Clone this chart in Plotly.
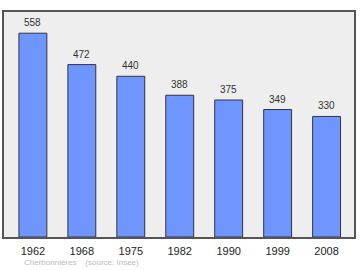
import plotly.graph_objects as go

years = ["1962", "1968", "1975", "1982", "1990", "1999", "2008"]
population = [558, 472, 440, 388, 375, 349, 330]
source_text = "Cherbonnières    (source: Insee)"

FONT = "Arial"

fig = go.Figure()
fig.add_trace(go.Bar(
    x=list(range(len(years))), y=population,
    width=0.57,
    marker=dict(color="#6f96ff", line=dict(color="#333344", width=1)),
    hoverinfo="skip",
))
for i, v in enumerate(population):
    fig.add_annotation(x=i, y=v, text=str(v), showarrow=False, yanchor="bottom",
                       yshift=3, font=dict(family=FONT, size=10, color="#333333"))

fig.add_annotation(xref="paper", yref="paper", x=0.05, y=-0.115, xanchor="left", yanchor="middle",
                   text=source_text, showarrow=False,
                   font=dict(family=FONT, size=8, color="#bbbbbb"))

fig.update_layout(
    width=360, height=270,
    margin=dict(l=4, r=4, t=12, b=33),
    paper_bgcolor="white", plot_bgcolor="#eeeeee",
    showlegend=False,
    xaxis=dict(range=[-0.59, 6.56], tickvals=list(range(len(years))), ticktext=years,
               showgrid=False, zeroline=False, ticks="outside", ticklen=3,
               tickcolor="rgba(0,0,0,0)",
               tickfont=dict(family=FONT, size=11, color="#222222"),
               showline=True, linecolor="#555555", linewidth=2, mirror=True, fixedrange=True),
    yaxis=dict(range=[0, 616], showticklabels=False, showgrid=False, zeroline=False,
               showline=True, linecolor="#555555", linewidth=2, mirror=True, fixedrange=True),
)
fig.write_html("out.html")
